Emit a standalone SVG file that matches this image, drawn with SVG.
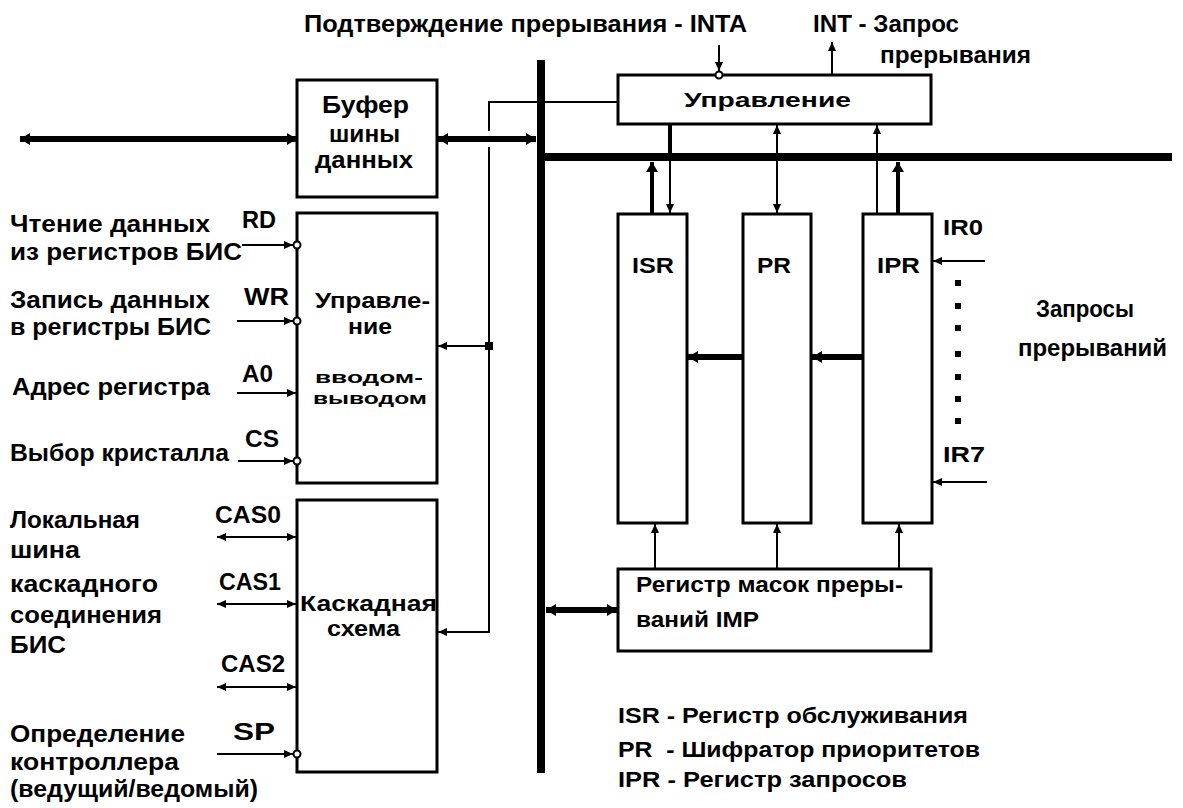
<svg xmlns="http://www.w3.org/2000/svg" width="1183" height="808" viewBox="0 0 1183 808">
<defs>
<style>
text{font-family:"Liberation Sans Narrow","Liberation Sans",Arial,sans-serif;font-weight:bold;fill:#000;font-size:24px}
.box{fill:#fff;stroke:#000;stroke-width:3}
.thin{fill:none;stroke:#000;stroke-width:2}
.thick{fill:none;stroke:#000;stroke-width:6}
.mid{fill:none;stroke:#000;stroke-width:4}
.bub{fill:#fff;stroke:#000;stroke-width:2}
.s17{font-size:17px}
.s20{font-size:20px}
.s22{font-size:22px}
</style>
<marker id="ah" viewBox="0 0 9 8" refX="9" refY="4" markerWidth="9" markerHeight="8" markerUnits="userSpaceOnUse" orient="auto-start-reverse"><path d="M0,0 L9,4 L0,8 z" fill="#000"/></marker>
<marker id="ahT" viewBox="0 0 10 12" refX="10" refY="6" markerWidth="10" markerHeight="12" markerUnits="userSpaceOnUse" orient="auto-start-reverse"><path d="M0,0 L10,6 L0,12 z" fill="#000"/></marker>
</defs>
<rect width="1183" height="808" fill="#fff"/>

<g id="buses">
<rect x="537" y="60" width="8" height="713" fill="#000"/>
<rect x="541" y="153" width="631" height="8" fill="#000"/>
</g>

<g id="top-labels">
<text x="304" y="32" textLength="443" lengthAdjust="spacingAndGlyphs">Подтверждение прерывания - INTA</text>
<text x="813" y="32" textLength="146" lengthAdjust="spacingAndGlyphs">INT - Запрос</text>
<text x="880" y="63" textLength="151" lengthAdjust="spacingAndGlyphs">прерывания</text>
</g>

<g id="buffer">
<rect class="box" x="297" y="80" width="140" height="117"/>
<text x="322" y="113" textLength="87" lengthAdjust="spacingAndGlyphs">Буфер</text>
<text x="329" y="142" textLength="71" lengthAdjust="spacingAndGlyphs">шины</text>
<text x="315" y="168" textLength="98" lengthAdjust="spacingAndGlyphs">данных</text>
</g>

<g id="io-control">
<rect class="box" x="297" y="213" width="140" height="270"/>
<text class="s22" x="315" y="308" textLength="115" lengthAdjust="spacingAndGlyphs">Управле-</text>
<text class="s22" x="348" y="334" textLength="44" lengthAdjust="spacingAndGlyphs">ние</text>
<text class="s17" x="315" y="383" textLength="108" lengthAdjust="spacingAndGlyphs">вводом-</text>
<text class="s17" x="313" y="404" textLength="114" lengthAdjust="spacingAndGlyphs">выводом</text>
</g>

<g id="cascade">
<rect class="box" x="297" y="500" width="140" height="272"/>
<text class="s22" x="300" y="611" textLength="137" lengthAdjust="spacingAndGlyphs">Каскадная</text>
<text class="s22" x="327" y="636" textLength="73" lengthAdjust="spacingAndGlyphs">схема</text>
</g>

<g id="control">
<rect class="box" x="618" y="75" width="313" height="49"/>
<text class="s20" x="684" y="107" textLength="167" lengthAdjust="spacingAndGlyphs">Управление</text>
</g>

<g id="isr">
<rect class="box" x="618" y="214" width="69" height="309"/>
<text class="s22" x="632" y="273" textLength="42" lengthAdjust="spacingAndGlyphs">ISR</text>
</g>
<g id="pr">
<rect class="box" x="743" y="214" width="68" height="309"/>
<text class="s22" x="757" y="273" textLength="34" lengthAdjust="spacingAndGlyphs">PR</text>
</g>
<g id="ipr">
<rect class="box" x="863" y="214" width="69" height="309"/>
<text class="s22" x="877" y="273" textLength="43" lengthAdjust="spacingAndGlyphs">IPR</text>
</g>

<g id="imp">
<rect class="box" x="618" y="569" width="313" height="82"/>
<text class="s22" x="636" y="592" textLength="267" lengthAdjust="spacingAndGlyphs">Регистр масок преры-</text>
<text class="s22" x="636" y="627" textLength="123" lengthAdjust="spacingAndGlyphs">ваний IMP</text>
</g>

<g id="left-labels">
<text x="10" y="232" textLength="200" lengthAdjust="spacingAndGlyphs">Чтение данных</text>
<text x="10" y="260" textLength="232" lengthAdjust="spacingAndGlyphs">из регистров БИС</text>
<text x="242" y="228" textLength="34" lengthAdjust="spacingAndGlyphs">RD</text>
<text x="10" y="308" textLength="200" lengthAdjust="spacingAndGlyphs">Запись данных</text>
<text x="10" y="335" textLength="201" lengthAdjust="spacingAndGlyphs">в регистры БИС</text>
<text x="244" y="305" textLength="45" lengthAdjust="spacingAndGlyphs">WR</text>
<text x="12" y="395" textLength="198" lengthAdjust="spacingAndGlyphs">Адрес регистра</text>
<text x="242" y="382" textLength="31" lengthAdjust="spacingAndGlyphs">A0</text>
<text x="10" y="461" textLength="219" lengthAdjust="spacingAndGlyphs">Выбор кристалла</text>
<text x="245" y="447" textLength="34" lengthAdjust="spacingAndGlyphs">CS</text>
<text x="10" y="528" textLength="130" lengthAdjust="spacingAndGlyphs">Локальная</text>
<text x="10" y="558" textLength="70" lengthAdjust="spacingAndGlyphs">шина</text>
<text x="10" y="592" textLength="148" lengthAdjust="spacingAndGlyphs">каскадного</text>
<text x="10" y="623" textLength="152" lengthAdjust="spacingAndGlyphs">соединения</text>
<text x="10" y="653" textLength="56" lengthAdjust="spacingAndGlyphs">БИС</text>
<text x="215" y="523" textLength="66" lengthAdjust="spacingAndGlyphs">CAS0</text>
<text x="219" y="590" textLength="62" lengthAdjust="spacingAndGlyphs">CAS1</text>
<text x="221" y="672" textLength="64" lengthAdjust="spacingAndGlyphs">CAS2</text>
<text x="10" y="742" textLength="175" lengthAdjust="spacingAndGlyphs">Определение</text>
<text x="10" y="770" textLength="169" lengthAdjust="spacingAndGlyphs">контроллера</text>
<text x="10" y="797" textLength="248" lengthAdjust="spacingAndGlyphs">(ведущий/ведомый)</text>
<text x="233" y="740" textLength="42" lengthAdjust="spacingAndGlyphs">SP</text>
</g>

<g id="right-labels">
<text class="s22" x="943" y="235" textLength="40" lengthAdjust="spacingAndGlyphs">IR0</text>
<text class="s22" x="943" y="462" textLength="42" lengthAdjust="spacingAndGlyphs">IR7</text>
<text x="1036" y="317" textLength="98" lengthAdjust="spacingAndGlyphs">Запросы</text>
<text x="1018" y="356" textLength="149" lengthAdjust="spacingAndGlyphs">прерываний</text>
</g>

<g id="legend">
<text class="s22" x="618" y="723" textLength="350" lengthAdjust="spacingAndGlyphs">ISR - Регистр обслуживания</text>
<text class="s22" x="618" y="757" textLength="362" lengthAdjust="spacingAndGlyphs" style="white-space:pre">PR  - Шифратор приоритетов</text>
<text class="s22" x="618" y="787" textLength="289" lengthAdjust="spacingAndGlyphs">IPR - Регистр запросов</text>
</g>

<g id="connectors">
<line class="thick" x1="20" y1="139" x2="297" y2="139" marker-start="url(#ahT)" marker-end="url(#ahT)"/>
<line class="thick" x1="438" y1="139" x2="536" y2="139" marker-start="url(#ahT)" marker-end="url(#ahT)"/>
<line class="thick" x1="546" y1="610" x2="617" y2="610" marker-start="url(#ahT)" marker-end="url(#ahT)"/>
<path class="thin" d="M618,102 H489 V131"/>
<path class="thin" d="M489,147 V632 H438" marker-end="url(#ah)"/>
<path class="thin" d="M489,346 H438" marker-end="url(#ah)"/>
<rect x="485" y="342" width="8" height="8" fill="#000"/>
<line class="thin" x1="719" y1="45" x2="719" y2="71" marker-end="url(#ah)"/>
<circle class="bub" cx="719" cy="75" r="3.5"/>
<line class="thin" x1="832" y1="75" x2="832" y2="42" marker-end="url(#ah)"/>
<line class="mid" x1="670" y1="124" x2="670" y2="153"/>
<line class="thin" x1="777" y1="153" x2="777" y2="125" marker-end="url(#ah)"/>
<line class="thin" x1="877" y1="153" x2="877" y2="125" marker-end="url(#ah)"/>
<line class="thin" x1="670" y1="161" x2="670" y2="213" marker-end="url(#ah)"/>
<line class="thin" x1="777" y1="161" x2="777" y2="213" marker-end="url(#ah)"/>
<line class="thin" x1="877" y1="161" x2="877" y2="213"/>
<line class="mid" x1="652" y1="213" x2="652" y2="162" marker-end="url(#ahT)"/>
<line class="mid" x1="898" y1="213" x2="898" y2="162" marker-end="url(#ahT)"/>
<line class="thick" x1="743" y1="357" x2="688" y2="357" marker-end="url(#ahT)"/>
<line class="thick" x1="863" y1="357" x2="812" y2="357" marker-end="url(#ahT)"/>
<line class="thin" x1="985" y1="261" x2="933" y2="261" marker-end="url(#ah)"/>
<line class="thin" x1="987" y1="482" x2="933" y2="482" marker-end="url(#ah)"/>
<g fill="#000">
<rect x="955" y="280" width="6" height="6"/>
<rect x="955" y="303" width="6" height="6"/>
<rect x="955" y="325" width="6" height="6"/>
<rect x="955" y="351" width="6" height="6"/>
<rect x="955" y="374" width="6" height="6"/>
<rect x="955" y="396" width="6" height="6"/>
<rect x="955" y="418" width="6" height="6"/>
</g>
<line class="thin" x1="655" y1="569" x2="655" y2="524" marker-end="url(#ah)"/>
<line class="thin" x1="777" y1="569" x2="777" y2="524" marker-end="url(#ah)"/>
<line class="thin" x1="899" y1="569" x2="899" y2="524" marker-end="url(#ah)"/>
<line class="thin" x1="242" y1="245" x2="293" y2="245" marker-end="url(#ah)"/>
<circle class="bub" cx="297" cy="245" r="3.5"/>
<line class="thin" x1="237" y1="321" x2="293" y2="321" marker-end="url(#ah)"/>
<circle class="bub" cx="297" cy="321" r="3.5"/>
<line class="thin" x1="237" y1="393" x2="296" y2="393" marker-end="url(#ah)"/>
<line class="thin" x1="238" y1="461" x2="293" y2="461" marker-end="url(#ah)"/>
<circle class="bub" cx="297" cy="461" r="3.5"/>
<line class="thin" x1="217" y1="537" x2="296" y2="537" marker-start="url(#ah)" marker-end="url(#ah)"/>
<line class="thin" x1="217" y1="604" x2="296" y2="604" marker-start="url(#ah)" marker-end="url(#ah)"/>
<line class="thin" x1="217" y1="687" x2="296" y2="687" marker-start="url(#ah)" marker-end="url(#ah)"/>
<line class="thin" x1="217" y1="754" x2="293" y2="754" marker-end="url(#ah)"/>
<circle class="bub" cx="297" cy="754" r="3.5"/>
</g>
</svg>
